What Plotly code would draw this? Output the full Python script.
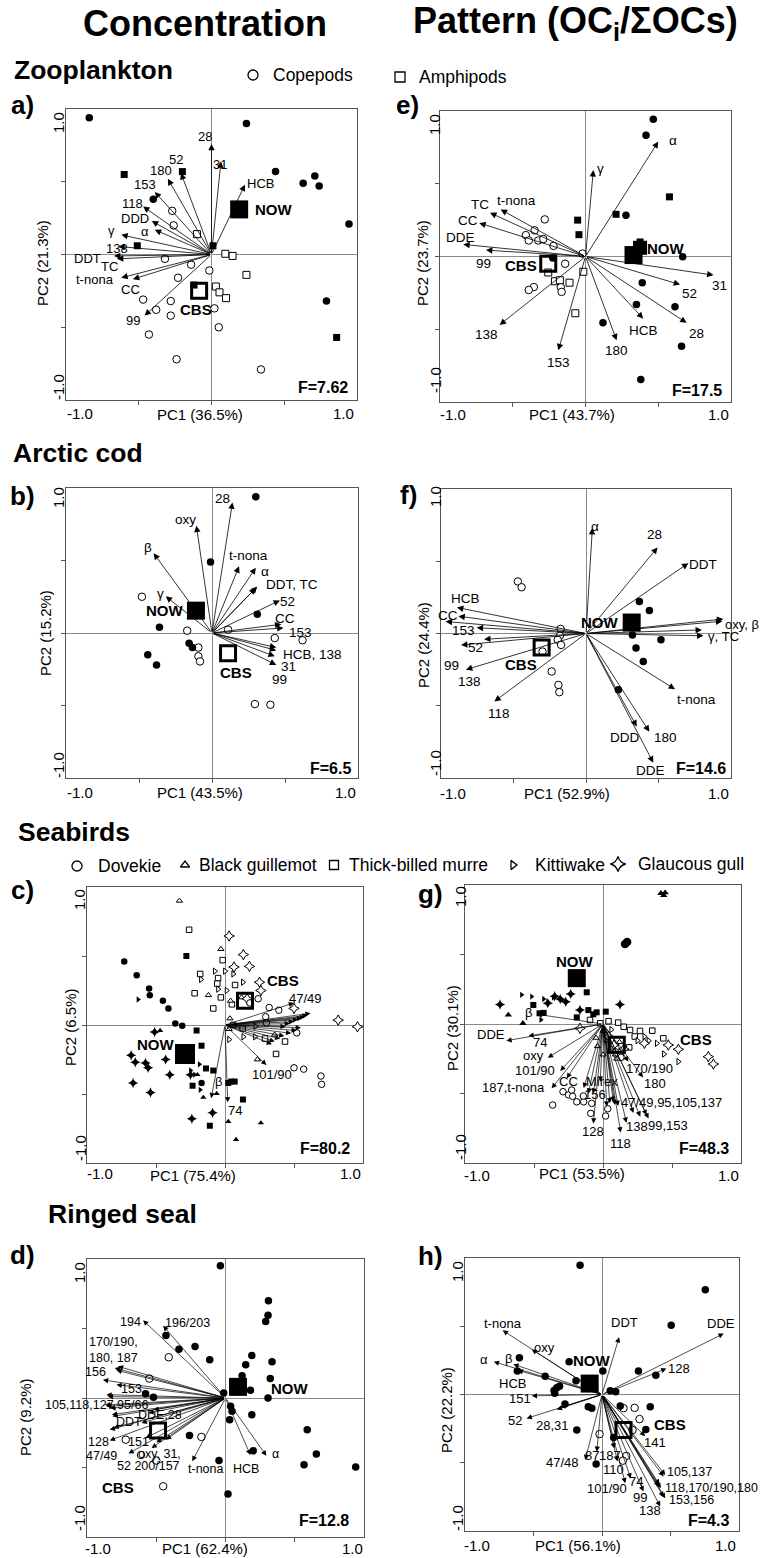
import plotly.graph_objects as go

W, H = 761, 1558
FONT = "Liberation Sans, Arial, sans-serif"

# ---------------- DATA ----------------
# Panel a) Zooplankton concentration
a_filled_circles = [(-0.84, 0.94), (0.24, 0.90), (0.44, 0.57), (0.63, 0.49), (0.71, 0.54), (0.74, 0.47),
                    (0.945, 0.21), (0.79, -0.32), (-0.40, 0.38)]
a_filled_squares = [(-0.60, 0.55), (-0.20, 0.57), (-0.51, 0.06), (0.01, 0.06), (0.86, -0.57), (-0.12, -0.21)]
a_open_circles = [(-0.27, 0.30), (-0.26, 0.20), (-0.32, -0.03), (-0.14, -0.07), (-0.23, -0.16), (-0.015, -0.11),
                  (-0.47, -0.31), (-0.28, -0.32), (-0.38, -0.38), (-0.28, -0.42), (0.02, -0.37), (0.05, -0.50),
                  (-0.43, -0.55), (-0.24, -0.72), (0.34, -0.79)]
a_open_squares = [(-0.10, 0.14), (0.095, 0.005), (0.145, -0.01), (0.24, -0.14), (0.03, -0.22), (0.055, -0.26),
                  (0.10, -0.30)]
a_now = (0.19, 0.31)
a_cbs = (-0.085, -0.25)
a_vectors = [("28", 0.0, 0.76), ("31", 0.065, 0.64), ("HCB", 0.23, 0.48), ("52", -0.21, 0.56), ("180", -0.30, 0.52),
             ("153", -0.39, 0.43), ("118", -0.47, 0.33), ("DDD", -0.41, 0.23), ("α", -0.39, 0.17),
             ("γ", -0.62, 0.135), ("138", -0.64, 0.055), ("DDT", -0.67, -0.01), ("TC", -0.65, -0.03),
             ("t-nona", -0.62, -0.16), ("CC", -0.54, -0.17), ("99", -0.46, -0.42)]
a_labels = [("28", -0.045, 0.81), ("31", 0.06, 0.62), ("HCB", 0.34, 0.49), ("52", -0.245, 0.65), ("180", -0.35, 0.58),
            ("153", -0.455, 0.48), ("118", -0.54, 0.35), ("DDD", -0.525, 0.245), ("α", -0.46, 0.16),
            ("γ", -0.685, 0.165), ("138", -0.65, 0.04), ("DDT", -0.85, -0.03), ("TC", -0.70, -0.08),
            ("t-nona", -0.80, -0.175), ("CC", -0.56, -0.24), ("99", -0.54, -0.455)]

# Panel e) Zooplankton pattern
e_filled_circles = [(0.466, 0.943), (0.416, 0.833), (0.278, 0.284), (0.668, -0.002), (0.39, -0.18), (0.35, -0.33),
                    (0.615, -0.346), (0.12, -0.456), (0.66, -0.617), (0.38, -0.846), (-0.225, -0.01)]
e_filled_squares = [(0.577, 0.41), (0.21, 0.29), (-0.054, 0.25), (-0.045, 0.15), (0.375, 0.10)]
e_open_circles = [(-0.28, 0.255), (-0.35, 0.18), (-0.41, 0.147), (-0.39, 0.11), (-0.325, 0.11), (-0.29, 0.12),
                  (-0.22, 0.073), (-0.02, 0.02), (-0.14, -0.05), (-0.17, -0.21), (-0.164, -0.243), (-0.355, -0.21),
                  (-0.39, -0.23)]
e_open_squares = [(-0.256, -0.11), (-0.21, -0.17), (-0.176, -0.163), (-0.11, -0.18), (-0.015, -0.105), (-0.07, -0.39)]
e_now = (0.33, 0.01)
e_cbs = (-0.256, -0.05)
e_vectors = [("α", 0.50, 0.79), ("γ", 0.054, 0.594), ("TC", -0.656, 0.30), ("t-nona", -0.583, 0.323),
             ("CC", -0.73, 0.23), ("DDE", -0.84, 0.083), ("99", -0.684, 0.044), ("138", -0.59, -0.47),
             ("153", -0.187, -0.645), ("180", 0.214, -0.576), ("HCB", 0.397, -0.427), ("28", 0.695, -0.456),
             ("52", 0.65, -0.193), ("31", 0.88, -0.128)]
e_labels = [("α", 0.60, 0.80), ("γ", 0.10, 0.605), ("TC", -0.725, 0.36), ("t-nona", -0.473, 0.383),
            ("CC", -0.81, 0.245), ("DDE", -0.86, 0.13), ("99", -0.70, -0.048), ("138", -0.68, -0.537),
            ("153", -0.187, -0.73), ("180", 0.214, -0.645), ("HCB", 0.397, -0.507), ("28", 0.764, -0.53),
            ("52", 0.718, -0.255), ("31", 0.924, -0.197)]

# Panel b) Arctic cod concentration
b_filled_circles = [(0.30, 0.94), (-0.01, 0.49), (0.31, 0.13), (-0.36, 0.04), (-0.44, -0.15), (-0.38, -0.22),
                    (-0.157, -0.07), (-0.134, -0.10)]
b_open_circles = [(-0.48, 0.25), (-0.17, 0.016), (0.11, 0.023), (-0.093, -0.10), (-0.093, -0.16), (-0.082, -0.196),
                  (0.43, -0.035), (0.62, -0.05), (0.294, -0.49), (0.40, -0.495)]
b_now = (-0.11, 0.154)
b_cbs = (0.11, -0.14)
b_vectors = [("28", 0.14, 0.90), ("oxy", -0.107, 0.74), ("β", -0.40, 0.55), ("γ", -0.317, 0.253),
             ("t-nona", 0.185, 0.46), ("α", 0.30, 0.45), ("DDT", 0.31, 0.32), ("TC", 0.30, 0.31),
             ("52", 0.465, 0.225), ("CC", 0.475, 0.06), ("153", 0.49, 0.035), ("HCB", 0.44, -0.10),
             ("138", 0.44, -0.12), ("99", 0.43, -0.16), ("31", 0.44, -0.22)]
b_labels = [("28", 0.07, 0.925), ("oxy", -0.18, 0.78), ("β", -0.44, 0.59), ("γ", -0.355, 0.27),
            ("t-nona", 0.25, 0.535), ("α", 0.36, 0.425), ("DDT, TC", 0.545, 0.333), ("52", 0.52, 0.22),
            ("CC", 0.50, 0.10), ("153", 0.605, 0.0), ("HCB, 138", 0.685, -0.15), ("31", 0.525, -0.23),
            ("99", 0.465, -0.32)]

# Panel f) Arctic cod pattern
f_filled_circles = [(0.368, 0.222), (0.437, 0.16), (0.32, -0.01), (0.517, -0.044), (0.345, -0.10), (0.395, -0.194),
                    (0.223, -0.39)]
f_open_circles = [(-0.47, 0.36), (-0.444, 0.32), (-0.175, 0.032), (-0.18, -0.016), (-0.195, -0.044),
                  (-0.172, -0.079), (-0.237, -0.263), (-0.19, -0.356), (-0.184, -0.406), (-0.30, -0.125)]
f_now = (0.315, 0.076)
f_cbs = (-0.306, -0.097)
f_vectors = [("α", 0.044, 0.73), ("28", 0.494, 0.596), ("DDT", 0.706, 0.487), ("HCB", -0.89, 0.18),
             ("CC", -0.88, 0.12), ("31", -0.968, 0.083), ("153", -0.754, 0.04), ("52", -0.703, -0.04),
             ("99", -0.862, -0.08), ("138", -0.828, -0.25), ("118", -0.632, -0.47), ("oxy", 0.947, 0.10),
             ("β", 0.94, 0.085), ("γ", 0.80, 0.025), ("TC", 0.81, -0.016), ("t-nona", 0.614, -0.386),
             ("DDD", 0.35, -0.644), ("180", 0.437, -0.68), ("DDE", 0.464, -0.894)]
f_labels = [("α", 0.06, 0.74), ("28", 0.469, 0.684), ("DDT", 0.81, 0.48), ("HCB", -0.83, 0.245),
            ("CC", -0.95, 0.125), ("31", -1.025, 0.083), ("153", -0.846, 0.018), ("52", -0.76, -0.10),
            ("99", -0.93, -0.22), ("138", -0.805, -0.33), ("118", -0.60, -0.557), ("t-nona", 0.76, -0.46),
            ("DDD", 0.264, -0.718), ("180", 0.545, -0.72), ("DDE", 0.446, -0.95)]
f_labels_left = [("oxy, β", 0.955, 0.06), ("γ, TC", 0.835, -0.02)]

# Panel c) Seabirds concentration
c_filled_circles = [(-0.73, 0.46), (-0.64, 0.36), (-0.55, 0.265), (-0.545, 0.216), (-0.45, 0.175), (-0.41, 0.12),
                    (-0.36, 0.01), (-0.31, -0.006), (-0.17, -0.42)]
c_filled_squares = [(-0.28, 0.50), (-0.206, -0.04), (-0.17, -0.15), (-0.138, -0.315), (-0.085, -0.33),
                    (-0.235, -0.44), (0.024, -0.42), (0.07, -0.41), (0.13, -0.54), (-0.11, -0.73), (0.045, -0.41)]
c_filled_triangles = [(-0.157, -0.525), (-0.06, -0.497), (0.024, -0.70), (0.26, -0.71), (0.08, -0.83),
                      (-0.47, -0.04), (-0.2, -0.36)]
c_filled_rtriangles = [(-0.63, 0.185), (-0.186, -0.285), (-0.18, -0.47), (-0.25, -0.33), (-0.22, -0.36)]
c_filled_stars = [(-0.68, -0.22), (-0.65, -0.27), (-0.576, -0.275), (-0.43, -0.25), (-0.557, -0.31), (-0.40, -0.36),
                  (-0.666, -0.42), (-0.54, -0.49), (-0.24, -0.68), (-0.09, -0.635), (-0.25, -0.36), (-0.51, -0.05)]
c_open_triangles = [(-0.33, 0.90), (-0.03, 0.55), (-0.12, 0.216), (0.04, 0.175), (0.036, 0.047), (0.235, -0.25),
                    (0.03, -0.03), (0.36, -0.07), (0.12, 0.2)]
c_open_squares = [(-0.26, 0.69), (-0.017, 0.47), (-0.18, 0.37), (-0.05, 0.34), (0.073, 0.29), (-0.22, 0.23),
                  (-0.03, 0.20), (-0.085, 0.12), (0.05, 0.15), (0.06, 0.0), (0.128, -0.025), (0.29, -0.098),
                  (0.435, -0.12), (0.37, -0.21), (-0.056, 0.30)]
c_open_rtriangles = [(-0.174, 0.33), (-0.073, 0.39), (0.0, 0.39), (0.06, 0.37), (0.13, 0.31), (0.012, 0.25),
                     (-0.05, 0.26), (0.133, -0.085), (0.22, -0.01), (0.218, -0.086), (0.03, -0.105)]
c_open_stars = [(0.03, 0.645), (0.133, 0.51), (0.177, 0.425), (0.065, 0.42), (0.25, 0.31), (0.26, 0.25),
                (0.82, 0.035), (0.96, -0.013), (0.16, 0.19), (0.5, 0.12)]
c_open_circles = [(0.24, 0.19), (0.32, 0.127), (0.39, 0.107), (0.295, 0.06), (0.30, 0.016), (0.52, -0.057),
                  (0.50, -0.31), (0.57, -0.32), (0.695, -0.37), (0.70, -0.43), (0.18, 0.16)]
c_now = (-0.29, -0.21)
c_cbs = (0.145, 0.175)
c_vectors = [("47/49", 0.50, 0.16), ("", 0.62, 0.085), ("", 0.60, 0.07), ("", 0.58, 0.06), ("", 0.56, 0.05),
             ("", 0.53, 0.04), ("", 0.50, 0.025), ("", 0.47, 0.01), ("", 0.44, -0.01), ("", 0.55, -0.02),
             ("", 0.52, -0.04), ("", 0.48, -0.06), ("", 0.43, -0.08), ("", 0.40, -0.10), ("", 0.36, -0.12),
             ("", 0.34, -0.14), ("101/90", 0.30, -0.29), ("β", -0.10, -0.53), ("74", 0.02, -0.56)]
c_labels = [("47/49", 0.585, 0.19), ("101/90", 0.34, -0.36), ("β", -0.05, -0.41), ("74", 0.073, -0.62)]
c_block_lines = [("95/6,99,105,118,", 0.107), ("137,HCB", 0.0), ("128,138,153,156,170/", -0.08),
                 ("190,180,CC,Mirex", -0.19), ("28,187,194,196/203,oxy", -0.28)]

# Panel g) Seabirds pattern
g_filled_triangles = [(0.42, 0.94), (0.45, 0.945), (0.44, 0.925), (-0.686, 0.065), (-0.58, 0.005)]
g_filled_circles = [(0.16, 0.575), (0.175, 0.59)]
g_filled_squares = [(-0.118, 0.228), (-0.505, 0.137), (-0.46, 0.077), (-0.43, 0.08), (-0.19, 0.048),
                    (-0.106, 0.10), (-0.046, 0.084), (0.02, 0.089), (-0.07, 0.07)]
g_filled_rtriangles = [(-0.59, 0.21), (-0.517, 0.197), (-0.43, 0.18), (-0.36, 0.19), (-0.30, 0.175),
                       (-0.40, 0.16), (-0.45, 0.03)]
g_filled_stars = [(-0.746, 0.14), (-0.234, 0.216), (-0.31, 0.18), (-0.167, 0.10), (0.123, 0.14), (-0.40, 0.15),
                  (-0.35, 0.20), (-0.27, 0.16)]
g_open_squares = [(0.11, 0.01), (0.196, -0.043), (0.268, -0.05), (0.357, -0.048), (0.437, -0.103), (0.19, -0.168),
                  (-0.094, 0.029), (-0.02, 0.005), (0.04, 0.02), (0.15, -0.02), (0.23, -0.09)]
g_open_triangles = [(0.0, -0.05), (0.03, -0.12), (-0.05, -0.10), (0.05, -0.2), (0.09, -0.22), (-0.04, -0.16),
                    (0.12, -0.13), (0.0, -0.22), (0.1, -0.25)]
g_open_rtriangles = [(0.39, -0.139), (0.442, -0.216), (0.546, -0.271), (0.30, -0.09), (0.33, -0.12),
                     (0.06, -0.04), (0.25, -0.12)]
g_open_stars = [(0.473, -0.151), (0.546, -0.182), (0.763, -0.235), (0.80, -0.288), (0.30, -0.139),
                (-0.167, -0.031), (0.04, -0.09), (0.08, -0.15), (0.15, -0.18)]
g_open_circles = [(-0.365, -0.583), (-0.29, -0.487), (-0.25, -0.51), (-0.22, -0.52), (-0.19, -0.56),
                  (-0.14, -0.56), (-0.082, -0.571), (-0.089, -0.643), (0.019, -0.662), (0.034, -0.61),
                  (-0.227, -0.475), (-0.143, -0.518), (0.09, -0.2), (0.13, -0.24)]
g_now = (-0.19, 0.33)
g_cbs = (0.10, -0.15)
g_vectors = [("β", -0.48, 0.07), ("DDE", -0.70, -0.12), ("74", -0.54, -0.086), ("oxy", -0.40, -0.242),
             ("101/90", -0.31, -0.338), ("187", -0.372, -0.463), ("CC", -0.263, -0.39), ("Mirex", -0.02, -0.415),
             ("156", -0.07, -0.50), ("128", -0.07, -0.715), ("118", 0.128, -0.78), ("138", 0.17, -0.71),
             ("99", 0.33, -0.68), ("153", 0.316, -0.655), ("47/49", 0.087, -0.583), ("95", 0.05, -0.57),
             ("105", 0.11, -0.59), ("137", 0.075, -0.56), ("180", 0.29, -0.384), ("170/190", 0.184, -0.27),
             ("", -0.14, -0.46), ("", -0.106, -0.50), ("", 0.027, -0.595), ("", 0.22, -0.64), ("", 0.27, -0.667)]
g_labels = [("β", -0.54, 0.085), ("DDE", -0.81, -0.072), ("74", -0.457, -0.134), ("oxy", -0.505, -0.223),
            ("101/90", -0.49, -0.336), ("187,t-nona", -0.65, -0.458), ("CC", -0.25, -0.415),
            ("Mirex", -0.01, -0.415), ("156", -0.058, -0.506), ("128", -0.07, -0.775), ("118", 0.128, -0.86),
            ("138", 0.244, -0.74), ("99,153", 0.473, -0.727), ("180", 0.377, -0.43), ("170/190", 0.34, -0.32)]
g_labels_left = [("47/49,95,105,137", 0.123, -0.564)]

# Panel d) Ringed seal concentration
d_filled_circles = [(-0.037, 0.952), (0.31, 0.70), (0.307, 0.595), (0.29, 0.55), (-0.43, 0.45), (-0.336, 0.35),
                    (-0.22, 0.37), (-0.114, 0.276), (0.19, 0.305), (0.146, 0.24), (0.336, 0.26), (0.323, 0.14),
                    (0.12, 0.16), (0.18, 0.055), (0.307, 0.0), (-0.013, 0.036), (-0.577, 0.03), (-0.52, 0.005),
                    (0.037, -0.06), (0.047, -0.096), (0.03, -0.156), (0.19, -0.12), (-0.26, -0.27), (0.20, -0.38),
                    (-0.047, -0.45), (0.018, -0.69), (0.59, -0.228), (0.656, -0.403), (0.567, -0.48),
                    (0.94, -0.496)]
d_open_circles = [(-0.41, 0.293), (-0.55, 0.14), (-0.72, -0.30), (-0.61, -0.41), (-0.50, -0.45), (-0.45, -0.635),
                  (-0.174, -0.28)]
d_now = (0.09, 0.08)
d_cbs = (-0.487, -0.233)
d_vectors = [("194", -0.595, 0.559), ("196/203", -0.45, 0.52), ("170/190", -0.80, 0.216), ("180", -0.787, 0.20),
             ("187", -0.776, 0.228), ("156", -0.885, 0.13), ("153", -0.787, 0.096), ("138", -0.86, 0.024),
             ("141", -0.85, 0.01), ("105", -0.86, -0.06), ("118", -0.836, -0.072), ("127", -0.87, -0.05),
             ("74", -0.816, -0.132), ("99", -0.82, -0.12), ("DDE", -0.558, -0.108), ("28", -0.52, -0.085),
             ("DDT", -0.606, -0.18), ("87", -0.836, -0.228), ("101/90", -0.81, -0.215), ("128", -0.836, -0.305),
             ("151", -0.578, -0.288), ("47/49", -0.70, -0.40), ("oxy", -0.50, -0.32), ("31", -0.43, -0.30),
             ("52", -0.534, -0.36), ("t-nona", -0.24, -0.455), ("HCB", 0.18, -0.41), ("α", 0.295, -0.415)]
d_labels = [("194", -0.684, 0.547), ("196/203", -0.275, 0.54), ("156", -0.937, 0.187), ("153", -0.68, 0.067),
            ("138,141", -1.014, 0.067), ("105,118,127,95/66", -0.928, -0.048), ("74,99,149", -1.053, -0.127),
            ("DDE,28", -0.475, -0.125), ("DDT", -0.70, -0.173), ("87,101/90,110", -1.04, -0.233),
            ("128", -0.92, -0.32), ("151", -0.63, -0.317), ("47/49", -0.896, -0.42), ("oxy, 31,", -0.48, -0.40),
            ("52 200/157", -0.555, -0.49), ("t-nona", -0.143, -0.51), ("HCB", 0.15, -0.51), ("α", 0.36, -0.40)]
d_labels_left = [("170/190,", -0.993, 0.40), ("180, 187", -0.993, 0.288)]

# Panel h) Ringed seal pattern
h_filled_circles = [(-0.16, 0.946), (0.754, 0.768), (0.505, 0.507), (-0.603, 0.27), (-0.618, 0.173),
                    (-0.415, 0.134), (-0.24, 0.24), (0.006, 0.173), (-0.19, 0.10), (0.266, 0.173), (0.393, 0.141),
                    (-0.35, 0.03), (-0.33, 0.05), (-0.31, 0.06), (-0.345, 0.01), (-0.27, -0.07), (-0.10, -0.09),
                    (-0.074, -0.10), (0.06, 0.027), (0.10, 0.02), (0.133, -0.085), (0.352, -0.09), (0.32, -0.256),
                    (-0.184, -0.26), (0.085, -0.315), (-0.043, -0.51), (-0.06, 0.11)]
h_open_circles = [(0.157, -0.10), (0.238, -0.098), (0.274, -0.18), (0.223, -0.26), (-0.018, -0.29), (0.177, -0.45),
                  (0.152, -0.485)]
h_now = (-0.09, 0.08)
h_cbs = (0.157, -0.26)
h_vectors = [("t-nona", -0.725, 0.47), ("oxy", -0.513, 0.33), ("α", -0.79, 0.24), ("β", -0.647, 0.222),
             ("HCB", -0.615, 0.178), ("151", -0.513, -0.01), ("52", -0.55, -0.175), ("28", -0.306, -0.095),
             ("31", -0.33, -0.11), ("DDT", 0.125, 0.42), ("DDE", 0.888, 0.446), ("128", 0.47, 0.19),
             ("141", 0.315, -0.305), ("47/48", -0.123, -0.48), ("87", -0.038, -0.42), ("187", 0.09, -0.395),
             ("110", 0.113, -0.49), ("101/90", 0.17, -0.65), ("74", 0.21, -0.615), ("99", 0.303, -0.71),
             ("138", 0.425, -0.82), ("105", 0.462, -0.59), ("137", 0.45, -0.60), ("118", 0.43, -0.687),
             ("170/190", 0.415, -0.675), ("180", 0.42, -0.66), ("153", 0.462, -0.76), ("156", 0.45, -0.75)]
h_labels = [("t-nona", -0.725, 0.52), ("oxy", -0.42, 0.344), ("α", -0.86, 0.258), ("β", -0.683, 0.263),
            ("HCB", -0.654, 0.08), ("151", -0.60, -0.03), ("52", -0.635, -0.188), ("28,31", -0.36, -0.224),
            ("DDT", 0.164, 0.524), ("DDE", 0.868, 0.52), ("128", 0.56, 0.188), ("141", 0.389, -0.354),
            ("47/48", -0.286, -0.50), ("87", -0.07, -0.444), ("187", 0.06, -0.444), ("110", 0.085, -0.55),
            ("101/90", 0.035, -0.688), ("74", 0.248, -0.64), ("99", 0.279, -0.753), ("138", 0.352, -0.85)]
h_labels_left = [("105,137", 0.47, -0.566), ("118,170/190,180", 0.45, -0.683), ("153,156", 0.48, -0.77)]

axis_titles = {
    1: ("PC1 (36.5%)", "PC2 (21.3%)"), 2: ("PC1 (43.7%)", "PC2 (23.7%)"),
    3: ("PC1 (43.5%)", "PC2 (15.2%)"), 4: ("PC1 (52.9%)", "PC2 (24.4%)"),
    5: ("PC1 (75.4%)", "PC2 (6.5%)"), 6: ("PC1 (53.5%)", "PC2 (30.1%)"),
    7: ("PC1 (62.4%)", "PC2 (9.2%)"), 8: ("PC1 (56.1%)", "PC2 (22.2%)"),
}
f_values = {1: "F=7.62", 2: "F=17.5", 3: "F=6.5", 4: "F=14.6", 5: "F=80.2", 6: "F=48.3", 7: "F=12.8", 8: "F=4.3"}

# ---------------- LAYOUT GEOMETRY (pixels) ----------------
boxes = {1: (66, 357, 109, 400), 2: (440, 731, 111, 402), 3: (66, 358, 488, 778), 4: (441, 731, 489, 778),
         5: (87, 363, 887, 1163), 6: (465, 741, 885, 1163), 7: (87, 364, 1259, 1537), 8: (465, 739, 1258, 1531)}
# (ylab1 x,y), (ylab-1 x,y), (xlab-1 x,y), (xlab1 x,y), (pc1 x,y), (pc2 x,y), (F right x, y)
label_pos = {
    1: ((58, 123), (58, 387), (80, 413), (343, 413), (200, 415), (43, 263), (349, 388)),
    2: ((435, 125), (435, 380), (453, 415), (718, 415), (572, 415), (423, 263), (723, 390)),
    3: ((58, 498), (58, 765), (80, 792), (345, 792), (200, 792), (45, 633), (352, 768)),
    4: ((435, 497), (435, 763), (453, 793), (718, 793), (567, 793), (423, 645), (727, 768)),
    5: ((80, 900), (80, 1148), (100, 1173), (350, 1173), (193, 1175), (70, 1027), (351, 1148)),
    6: ((460, 897), (460, 1147), (477, 1175), (728, 1175), (582, 1173), (452, 1028), (730, 1148)),
    7: ((79, 1273), (79, 1518), (98, 1548), (352, 1548), (205, 1548), (25, 1417), (350, 1520)),
    8: ((457, 1272), (457, 1518), (477, 1545), (725, 1545), (578, 1545), (446, 1410), (730, 1520)),
}


def PX(x):
    return x / W


def PY(y):
    return 1 - y / H


fig = go.Figure()
layout = dict(width=W, height=H, margin=dict(l=0, r=0, t=0, b=0), autosize=False,
              paper_bgcolor="white", plot_bgcolor="rgba(0,0,0,0)", showlegend=False,
              font=dict(family=FONT, color="black"))
for i, (x0, x1, y0, y1) in boxes.items():
    xk = "xaxis" if i == 1 else f"xaxis{i}"
    yk = "yaxis" if i == 1 else f"yaxis{i}"
    common = dict(range=[-1, 1], showline=True, mirror=True, linecolor="#555", linewidth=1,
                  zeroline=True, zerolinecolor="#8a8a8a", zerolinewidth=1, showgrid=False,
                  tickvals=[-0.5, 0, 0.5], ticks="outside", ticklen=4, tickcolor="#555",
                  showticklabels=False, fixedrange=True)
    layout[xk] = dict(domain=[PX(x0), PX(x1)], anchor=f"y{i}", **common)
    layout[yk] = dict(domain=[PY(y1), PY(y0)], anchor=f"x{i}", **common)
layout["xaxis9"] = dict(domain=[0, 1], range=[0, W], visible=False, anchor="y9", fixedrange=True)
layout["yaxis9"] = dict(domain=[0, 1], range=[H, 0], visible=False, anchor="x9", fixedrange=True)

annotations = []


def xr(i):
    return "x" if i == 1 else f"x{i}"


def yr(i):
    return "y" if i == 1 else f"y{i}"


def add_pts(i, pts, symbol, size, filled, lw=1.0):
    if not pts:
        return
    if filled:
        marker = dict(symbol=symbol, size=size, color="black", line=dict(width=0))
    else:
        marker = dict(symbol=symbol, size=size, color="white", line=dict(color="black", width=lw))
    fig.add_trace(go.Scatter(x=[p[0] for p in pts], y=[p[1] for p in pts], mode="markers",
                             marker=marker, xaxis=xr(i), yaxis=yr(i), hoverinfo="skip", cliponaxis=False))


def add_vectors(i, vecs, aw=0.8, asz=1.6):
    for _, vx, vy in vecs:
        annotations.append(dict(x=vx, y=vy, ax=0, ay=0, xref=xr(i), yref=yr(i), axref=xr(i), ayref=yr(i),
                                text="", showarrow=True, arrowhead=2, arrowsize=asz, arrowwidth=aw,
                                arrowcolor="black", standoff=0))


def add_labels(i, labs, size, anchor="center", bold=False):
    for t, lx, ly in labs:
        annotations.append(dict(x=lx, y=ly, xref=xr(i), yref=yr(i), text=f"<b>{t}</b>" if bold else t,
                                showarrow=False, xanchor=anchor, yanchor="middle", borderpad=0,
                                font=dict(size=size, family=FONT, color="black")))


def add_now_cbs(i, now, cbs, now_lab, cbs_lab, now_anchor="center", size_now=18, size_cbs=15):
    fig.add_trace(go.Scatter(x=[now[0]], y=[now[1]], mode="markers", xaxis=xr(i), yaxis=yr(i),
                             marker=dict(symbol="square", size=size_now, color="black"), hoverinfo="skip"))
    fig.add_trace(go.Scatter(x=[cbs[0]], y=[cbs[1]], mode="markers", xaxis=xr(i), yaxis=yr(i),
                             marker=dict(symbol="square", size=size_cbs, color="rgba(255,255,255,0)",
                                         line=dict(color="black", width=3)), hoverinfo="skip"))
    add_labels(i, [("NOW", now_lab[0], now_lab[1])], 15, anchor=now_anchor, bold=True)
    add_labels(i, [("CBS", cbs_lab[0], cbs_lab[1])], 15, bold=True)


# ---- panel a ----
add_vectors(1, a_vectors)
add_pts(1, a_open_circles, "circle", 7.5, False)
add_pts(1, a_open_squares, "square", 7, False)
add_pts(1, a_filled_circles, "circle", 7.5, True)
add_pts(1, a_filled_squares, "square", 7, True)
add_now_cbs(1, a_now, a_cbs, (0.29, 0.31), (-0.11, -0.38), now_anchor="left")
add_labels(1, a_labels, 13)

# ---- panel e ----
add_vectors(2, e_vectors)
add_pts(2, e_open_circles, "circle", 7.5, False)
add_pts(2, e_open_squares, "square", 7, False)
add_pts(2, e_filled_circles, "circle", 7.5, True)
add_pts(2, e_filled_squares, "square", 7, True)
fig.add_trace(go.Scatter(x=[0.375], y=[0.06], mode="markers", xaxis="x2", yaxis="y2",
                         marker=dict(symbol="square", size=14, color="black"), hoverinfo="skip"))
add_now_cbs(2, e_now, e_cbs, (0.55, 0.055), (-0.44, -0.065))
add_labels(2, e_labels, 13.5)

# ---- panel b ----
add_vectors(3, b_vectors)
add_pts(3, b_open_circles, "circle", 7.5, False)
add_pts(3, b_filled_circles, "circle", 7.5, True)
add_now_cbs(3, b_now, b_cbs, (-0.32, 0.154), (0.166, -0.27))
add_labels(3, b_labels, 13.5)

# ---- panel f ----
add_vectors(4, f_vectors)
add_pts(4, f_open_circles, "circle", 7.5, False)
add_pts(4, f_filled_circles, "circle", 7.5, True)
add_now_cbs(4, f_now, f_cbs, (0.097, 0.076), (-0.448, -0.217))
add_labels(4, f_labels, 13.5)
add_labels(4, f_labels_left, 13, anchor="left")

# ---- panel c ----
SB = 5.5
add_vectors(5, c_vectors, aw=0.7, asz=1.5)
add_pts(5, c_open_squares, "square", SB, False)
add_pts(5, c_open_triangles, "triangle-up", SB, False)
add_pts(5, c_open_rtriangles, "triangle-right", SB, False)
add_pts(5, c_open_stars, "star-diamond", SB + 2, False)
add_pts(5, c_open_circles, "circle", SB + 1, False)
add_pts(5, c_filled_circles, "circle", SB + 1, True)
add_pts(5, c_filled_squares, "square", SB + 0.5, True)
add_pts(5, c_filled_triangles, "triangle-up", SB, True)
add_pts(5, c_filled_rtriangles, "triangle-right", SB, True)
add_pts(5, c_filled_stars, "star-diamond", SB + 2, True)
add_now_cbs(5, c_now, c_cbs, (-0.50, -0.14), (0.42, 0.325), size_now=20)
add_labels(5, c_labels, 13)
for t, ly in c_block_lines:
    annotations.append(dict(x=1.435, y=ly, xref="x5", yref="y5", text=t, showarrow=False, xanchor="right",
                            yanchor="middle", borderpad=0, font=dict(size=13, family=FONT, color="black")))

# ---- panel g ----
add_vectors(6, g_vectors, aw=0.7, asz=1.5)
add_pts(6, g_open_circles, "circle", SB + 1, False)
add_pts(6, g_open_squares, "square", SB, False)
add_pts(6, g_open_triangles, "triangle-up", SB, False)
add_pts(6, g_open_rtriangles, "triangle-right", SB, False)
add_pts(6, g_open_stars, "star-diamond", SB + 2, False)
add_pts(6, g_filled_circles, "circle", SB + 3, True)
add_pts(6, g_filled_squares, "square", SB + 0.5, True)
add_pts(6, g_filled_triangles, "triangle-up", SB + 1, True)
add_pts(6, g_filled_rtriangles, "triangle-right", SB, True)
add_pts(6, g_filled_stars, "star-diamond", SB + 2, True)
add_now_cbs(6, g_now, g_cbs, (-0.20, 0.45), (0.674, -0.11))
add_labels(6, g_labels, 13)
add_labels(6, g_labels_left, 13, anchor="left")

# ---- panel d ----
add_vectors(7, d_vectors, aw=0.7, asz=1.5)
add_pts(7, d_open_circles, "circle", 7.5, False)
add_pts(7, d_filled_circles, "circle", 7.5, True)
add_now_cbs(7, d_now, d_cbs, (0.463, 0.067), (-0.776, -0.647))
add_labels(7, d_labels, 12.5)
add_labels(7, d_labels_left, 12.5, anchor="left")

# ---- panel h ----
add_vectors(8, h_vectors, aw=0.7, asz=1.5)
add_pts(8, h_open_circles, "circle", 7.5, False)
add_pts(8, h_filled_circles, "circle", 7.5, True)
add_now_cbs(8, h_now, h_cbs, (-0.075, 0.246), (0.493, -0.217))
add_labels(8, h_labels, 13)
add_labels(8, h_labels_left, 12.5, anchor="left")

# ---- axis texts (pixel positions) ----
for i, (yl1, ylm1, xlm1, xl1, pc1, pc2, fpos) in label_pos.items():
    pc1t, pc2t = axis_titles[i]
    for t, (x, y), ang in [("1.0", yl1, -90), ("-1.0", ylm1, -90), ("-1.0", xlm1, 0), ("1.0", xl1, 0),
                           (pc1t, pc1, 0), (pc2t, pc2, -90)]:
        annotations.append(dict(x=PX(x), y=PY(y), xref="paper", yref="paper", text=t, showarrow=False,
                                textangle=ang, xanchor="center", yanchor="middle", borderpad=0,
                                font=dict(size=15, family=FONT, color="black")))
    annotations.append(dict(x=PX(fpos[0]), y=PY(fpos[1]), xref="paper", yref="paper",
                            text=f"<b>{f_values[i]}</b>", showarrow=False, xanchor="right", yanchor="middle",
                            borderpad=0, font=dict(size=16, family=FONT, color="black")))

# ---- headings ----
heads = [("<b>Concentration</b>", 205, 23, 36), ("<b>Pattern (OC<sub>i</sub>/ΣOCs)</b>", 575, 23, 36),
         ("<b>Zooplankton</b>", 93, 70, 26.5), ("<b>Arctic cod</b>", 78, 453, 26.5),
         ("<b>Seabirds</b>", 74, 832, 26.5), ("<b>Ringed seal</b>", 122, 1214, 26.5),
         ("<b>a)</b>", 22, 105, 26), ("<b>e)</b>", 407, 105, 26), ("<b>b)</b>", 22, 496, 26),
         ("<b>f)</b>", 409, 495, 26), ("<b>c)</b>", 22, 890, 26), ("<b>g)</b>", 430, 894, 26),
         ("<b>d)</b>", 22, 1255, 26), ("<b>h)</b>", 430, 1256, 26)]
for t, x, y, s in heads:
    annotations.append(dict(x=PX(x), y=PY(y), xref="paper", yref="paper", text=t, showarrow=False,
                            xanchor="center", yanchor="middle", borderpad=0,
                            font=dict(size=s, family=FONT, color="black")))

# ---- legends ----
leg_items = [("circle", 253, 75, 10, "Copepods", 272), ("square", 400, 77, 10, "Amphipods", 418),
             ("circle", 77, 866, 10, "Dovekie", 97), ("triangle-up", 185, 865, 8, "Black guillemot", 198),
             ("square", 334, 865, 9, "Thick-billed murre", 348), ("triangle-right", 513, 865, 8, "Kittiwake", 534),
             ("star-diamond", 618, 864, 11, "Glaucous gull", 637)]
for sym, x, y, s, t, tx in leg_items:
    fig.add_trace(go.Scatter(x=[x], y=[y], mode="markers", xaxis="x9", yaxis="y9", hoverinfo="skip",
                             marker=dict(symbol=sym, size=s, color="white", line=dict(color="black", width=1.3))))
    annotations.append(dict(x=PX(tx), y=PY(y), xref="paper", yref="paper", text=t, showarrow=False,
                            xanchor="left", yanchor="middle", borderpad=0,
                            font=dict(size=17.5, family=FONT, color="black")))

layout["annotations"] = annotations
fig.update_layout(**layout)
fig.write_html("out.html", config={"displayModeBar": False, "staticPlot": True},
               post_script="document.body.style.margin='0';document.body.style.padding='0';")
